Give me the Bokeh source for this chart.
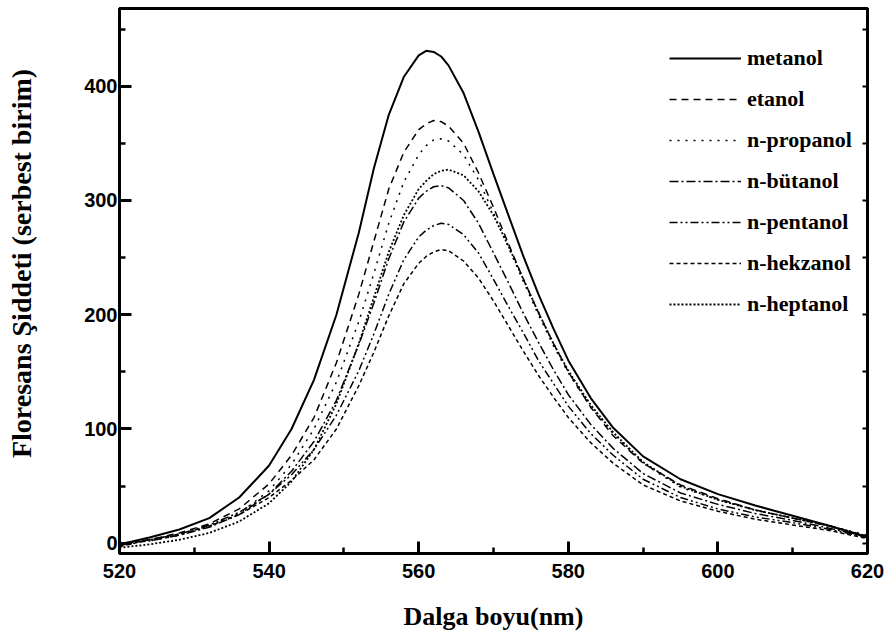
from bokeh.plotting import figure
from bokeh.models import Range1d, LinearAxis, SingleIntervalTicker, FixedTicker, Legend, LegendItem
from bokeh.embed import file_html
from bokeh.resources import INLINE

# wavelengths (nm)
wavelength = [520, 524, 528, 532, 536, 540, 543, 546, 549, 552, 554, 556, 558, 560, 561, 562,
              563, 564, 566, 568, 570, 572, 574, 576, 578, 580, 583, 586, 590, 595, 600, 605,
              610, 615, 620]

metanol = [-1, 5, 12, 22, 40, 68, 100, 143, 200, 272, 328, 375, 408, 427, 431, 430,
           426, 418, 394, 360, 323, 287, 251, 218, 188, 160, 127, 101, 76, 56, 43, 33,
           24, 15, 5]
etanol = [0, 3, 9, 17, 30, 52, 77, 110, 158, 218, 264, 310, 342, 362, 367, 370,
          369, 365, 350, 324, 294, 262, 231, 202, 175, 150, 119, 94, 70, 51, 39, 29,
          22, 15, 6]
n_propanol = [0, 2, 7, 15, 26, 46, 69, 100, 141, 194, 236, 280, 316, 340, 348, 353,
              354, 352, 340, 318, 289, 259, 229, 200, 173, 149, 119, 96, 70, 49, 38, 29,
              22, 15, 7]
n_butanol = [0, 2, 7, 14, 25, 43, 63, 89, 125, 174, 210, 249, 281, 302, 308, 312,
             313, 311, 300, 280, 254, 228, 201, 176, 152, 130, 104, 83, 61, 44, 34, 26,
             20, 13, 6]
n_pentanol = [-2, 3, 8, 16, 27, 43, 60, 82, 112, 151, 183, 218, 248, 268, 274, 278,
              280, 279, 270, 254, 231, 207, 184, 160, 140, 120, 96, 77, 56, 40, 30, 23,
              18, 12, 5]
n_hekzanol = [-3, 3, 8, 15, 25, 40, 55, 73, 100, 138, 167, 199, 227, 245, 251, 255,
              257, 256, 247, 232, 212, 190, 168, 147, 128, 110, 88, 70, 51, 37, 28, 21,
              16, 11, 4]
n_heptanol = [-4, -1, 3, 9, 19, 35, 54, 82, 122, 175, 215, 255, 287, 310, 317, 323,
              326, 327, 322, 308, 287, 260, 231, 202, 175, 151, 121, 97, 71, 50, 38, 29,
              22, 15, 6]

series_names = ["metanol", "etanol", "n-propanol", "n-bütanol", "n-pentanol", "n-hekzanol", "n-heptanol"]
series_values = [metanol, etanol, n_propanol, n_butanol, n_pentanol, n_hekzanol, n_heptanol]
dashes = ["solid", "7 5", "2 6", "9 3 2 3", "8 3 2 3 2 3", "4 3", "2 2"]
widths = [2, 1.5, 1.5, 1.5, 1.5, 1.5, 1.8]

x_ticks = [520, 540, 560, 580, 600, 620]
y_ticks = [0, 100, 200, 300, 400]
right_ticks = [0, 50, 100, 150, 200, 250, 300, 350, 400, 450]
y_title = "Floresans Şiddeti (serbest birim)"
x_title = "Dalga boyu(nm)"

p = figure(width=886, height=636, output_backend="svg", toolbar_location=None,
           x_range=Range1d(520, 620), y_range=Range1d(-9, 468),
           min_border_left=119, min_border_right=19, min_border_top=8, min_border_bottom=83,
           x_axis_type=None, y_axis_type=None)
p.background_fill_color = "white"
p.border_fill_color = "white"
p.grid.visible = False
p.outline_line_color = "black"
p.outline_line_width = 3

def style_axis(ax):
    ax.axis_line_width = 3
    ax.major_tick_line_width = 3
    ax.minor_tick_line_width = 2.5
    ax.major_tick_in = 12
    ax.major_tick_out = 0
    ax.minor_tick_in = 6
    ax.minor_tick_out = 0
    ax.major_label_text_font = "Liberation Sans"
    ax.major_label_text_font_style = "bold"
    ax.major_label_text_font_size = "20px"
    ax.major_label_text_color = "black"
    ax.axis_label_text_font = "Liberation Serif"
    ax.axis_label_text_font_style = "bold"
    ax.axis_label_text_color = "black"

xt = SingleIntervalTicker(interval=20, num_minor_ticks=2)
yt = SingleIntervalTicker(interval=100, num_minor_ticks=2)

xb = LinearAxis(ticker=xt, axis_label=x_title)
style_axis(xb)
xb.major_label_standoff = 10
xb.axis_label_text_font_size = "26px"
xb.axis_label_standoff = 21
xb.major_label_overrides = {v: str(v) for v in x_ticks}
p.add_layout(xb, "below")

# leading no-break spaces lift the title slightly above the frame centre, as in the reference
yl = LinearAxis(ticker=yt, axis_label="\u00a0" * 5 + y_title)
style_axis(yl)
yl.major_label_standoff = 2
yl.axis_label_text_font_size = "28px"
yl.axis_label_standoff = 44
yl.major_label_overrides = {v: str(v) for v in y_ticks}
p.add_layout(yl, "left")

# frame on the opposite sides (right side carries small inward ticks, no labels)
ya = LinearAxis(ticker=FixedTicker(ticks=[], minor_ticks=right_ticks))
ya.axis_line_width = 3
ya.minor_tick_in = 5
ya.minor_tick_out = 0
ya.minor_tick_line_width = 2
ya.major_tick_in = 0
ya.major_tick_out = 0
p.add_layout(ya, "right")

xa = LinearAxis(ticker=FixedTicker(ticks=[], minor_ticks=[]))
xa.axis_line_width = 3
xa.major_tick_in = 0
xa.major_tick_out = 0
xa.minor_tick_in = 0
xa.minor_tick_out = 0
p.add_layout(xa, "above")

items = []
for name, vals, d, w in zip(series_names, series_values, dashes, widths):
    r = p.line(wavelength, vals, line_color="black", line_width=w, line_dash=d)
    items.append(LegendItem(label=name, renderers=[r]))

legend = Legend(items=items, location=(550, 236))
legend.background_fill_alpha = 0
legend.border_line_alpha = 0
legend.label_text_font = "Liberation Serif"
legend.label_text_font_style = "bold"
legend.label_text_font_size = "22px"
legend.label_text_color = "black"
legend.glyph_width = 72
legend.glyph_height = 24
legend.label_height = 24
legend.label_standoff = 6
legend.spacing = 15
legend.padding = 0
legend.margin = 0
p.add_layout(legend, "center")

open("out.html", "w").write(file_html(p, INLINE))
